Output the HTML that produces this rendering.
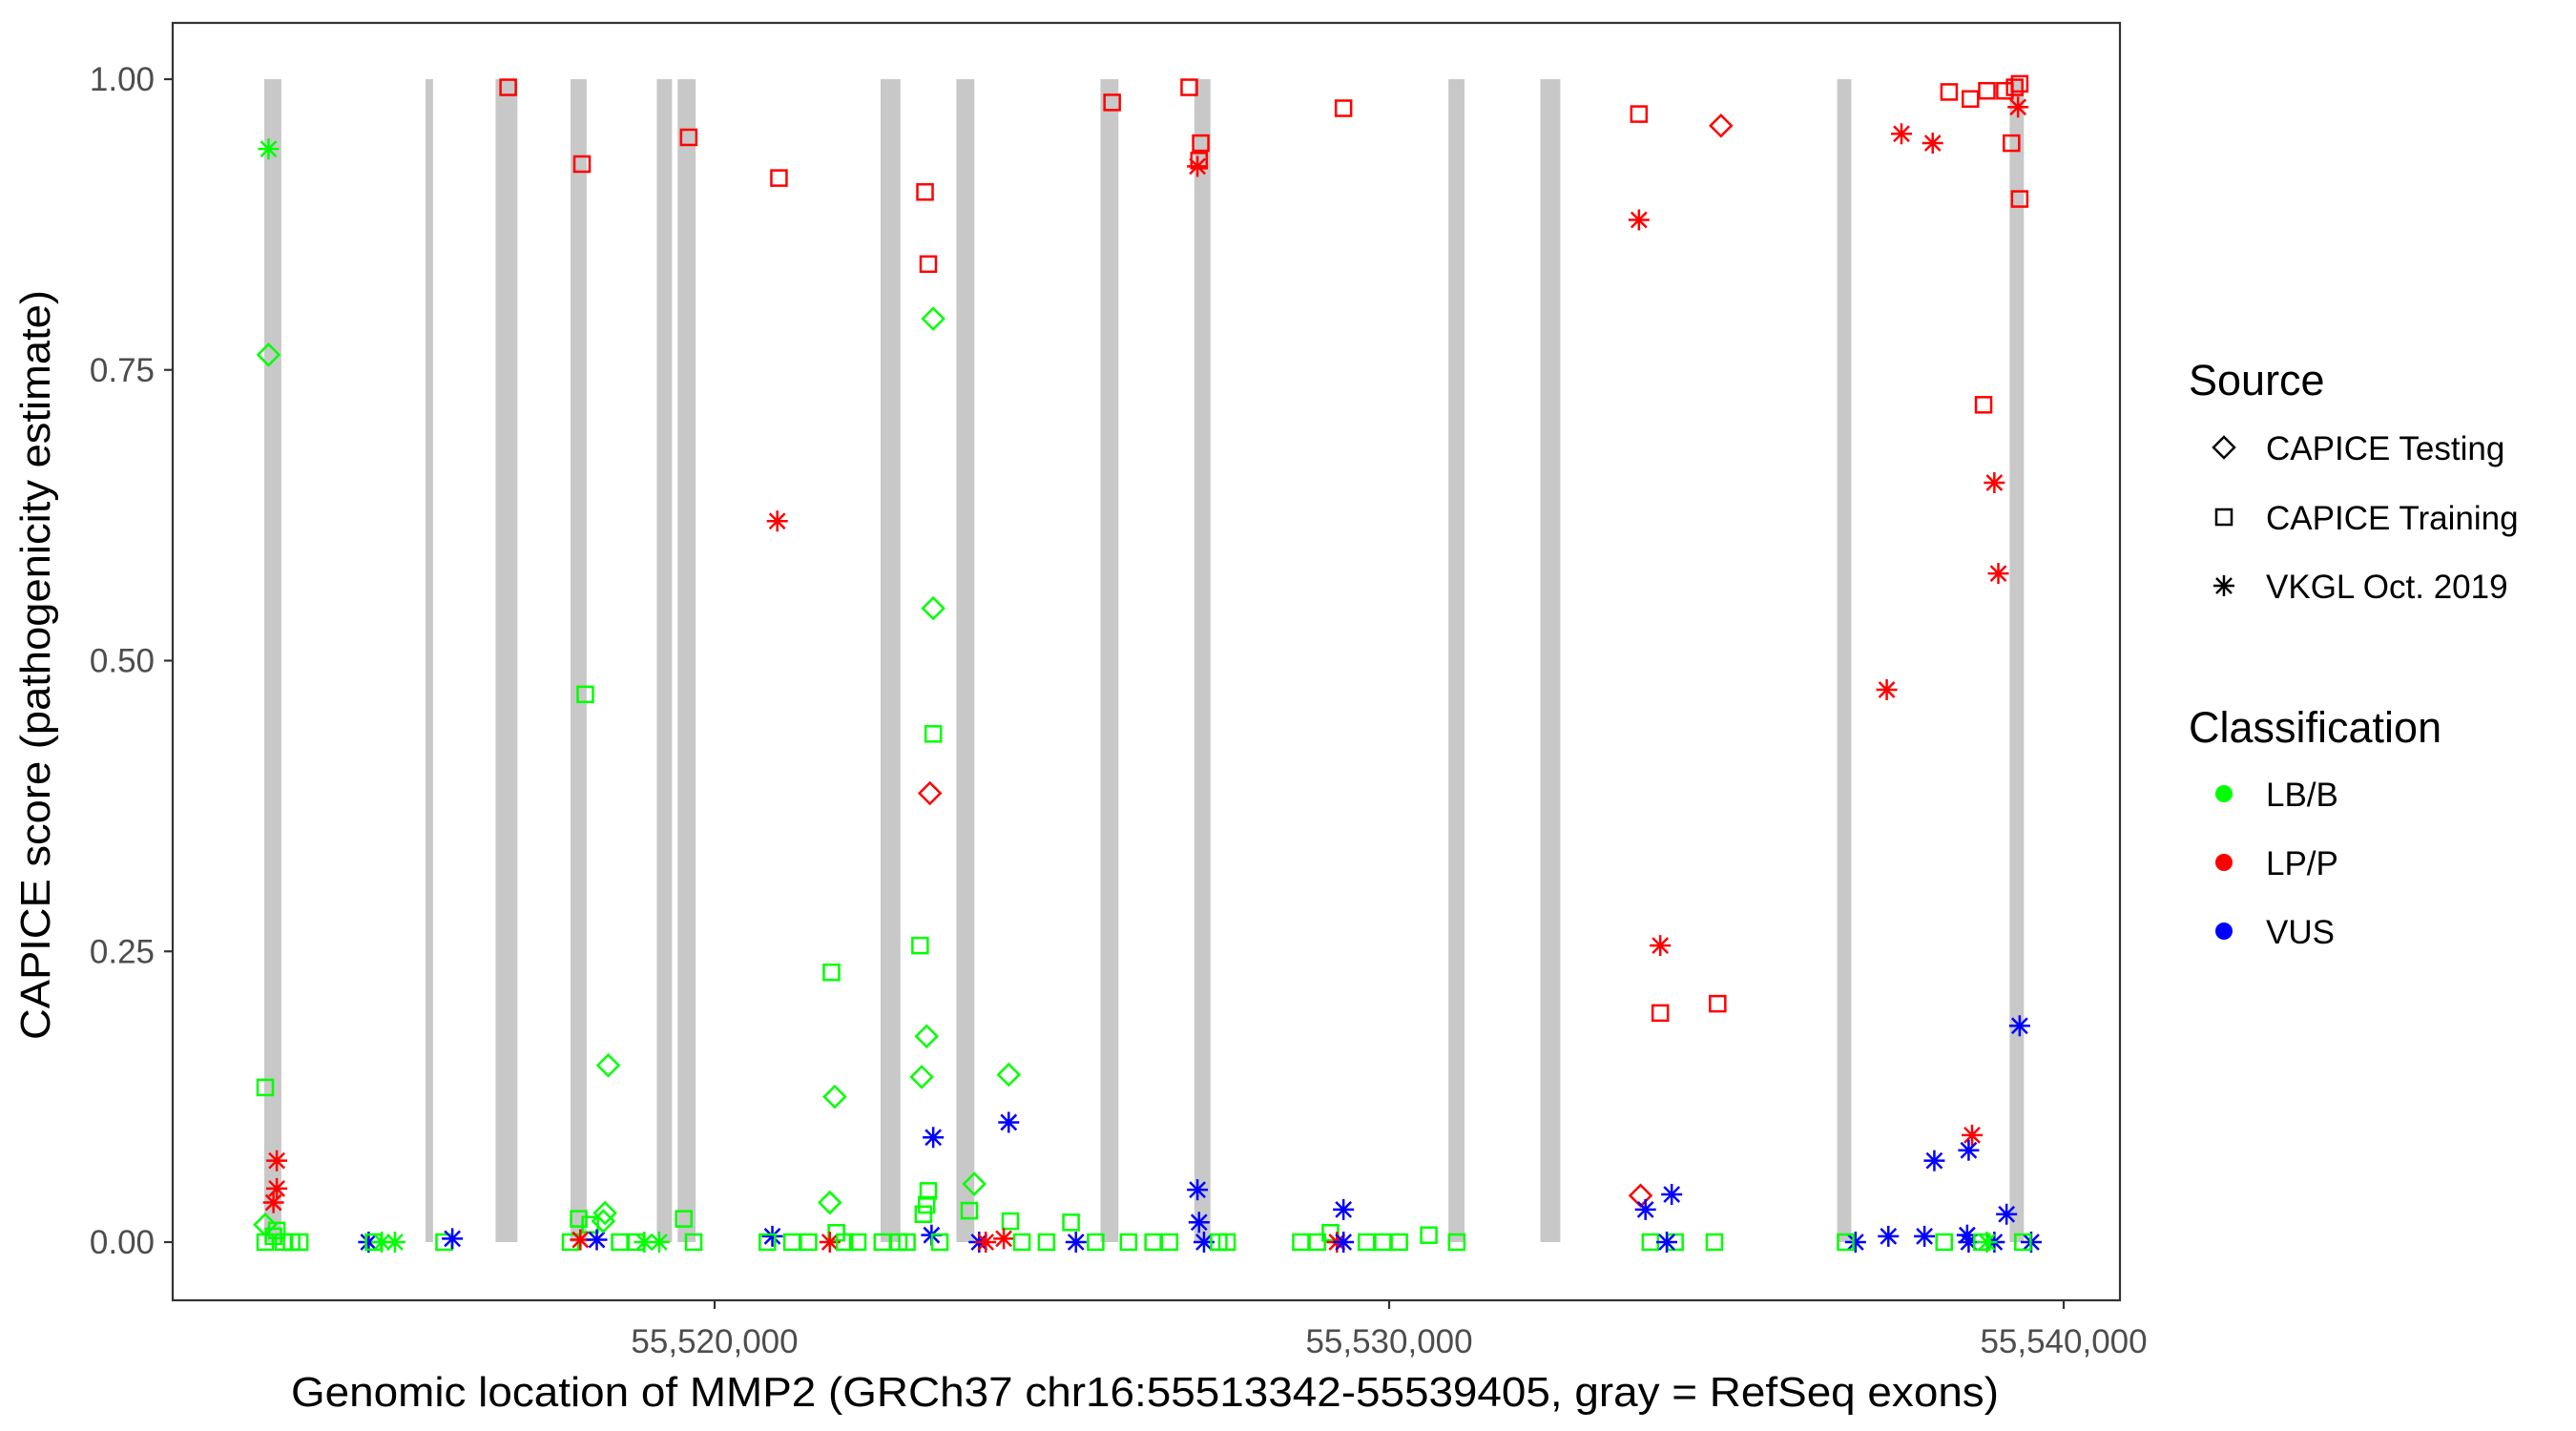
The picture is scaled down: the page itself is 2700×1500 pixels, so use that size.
<!DOCTYPE html>
<html><head><meta charset="utf-8"><style>
html,body{margin:0;padding:0;background:#fff;}
svg{display:block;font-family:"Liberation Sans",sans-serif;}
</style></head><body>
<svg id="chart" width="2700" height="1500" viewBox="0 0 2700 1500">
<rect x="0" y="0" width="2700" height="1500" fill="#fff"/>
<g id="exons"></g>
<g id="points"></g>
<rect x="181" y="24" width="2041" height="1339" fill="none" stroke="#333" stroke-width="2.2"/>
<g id="yaxis"></g>
<g id="xaxis"></g>
<text x="1200" y="1474" font-size="44" text-anchor="middle" fill="#000" textLength="1790" lengthAdjust="spacingAndGlyphs">Genomic location of MMP2 (GRCh37 chr16:55513342-55539405, gray = RefSeq exons)</text>
<text transform="translate(52,697) rotate(-90)" font-size="44" text-anchor="middle" fill="#000" textLength="786" lengthAdjust="spacingAndGlyphs">CAPICE score (pathogenicity estimate)</text>
<g id="legend">
<text x="2294" y="414" font-size="45" fill="#000">Source</text>
<polygon points="2320,469 2331,458 2342,469 2331,480" fill="none" stroke="#000" stroke-width="2.5"/>
<text x="2375" y="482" font-size="35" fill="#000">CAPICE Testing</text>
<rect x="2323" y="534" width="16" height="16" fill="none" stroke="#000" stroke-width="2.5"/>
<text x="2375" y="555" font-size="35" fill="#000">CAPICE Training</text>
<g stroke="#000" stroke-width="2.5"><line x1="2320" y1="614" x2="2342" y2="614"/><line x1="2331" y1="603" x2="2331" y2="625"/><line x1="2323" y1="606" x2="2339" y2="622"/><line x1="2323" y1="622" x2="2339" y2="606"/></g>
<text x="2375" y="627" font-size="35" fill="#000">VKGL Oct. 2019</text>
<text x="2294" y="778" font-size="45" fill="#000">Classification</text>
<circle cx="2331" cy="832" r="9" fill="#00FF00"/>
<text x="2375" y="845" font-size="35" fill="#000">LB/B</text>
<circle cx="2331" cy="904" r="9" fill="#FF0000"/>
<text x="2375" y="917" font-size="35" fill="#000">LP/P</text>
<circle cx="2331" cy="976" r="9" fill="#0000FF"/>
<text x="2375" y="989" font-size="35" fill="#000">VUS</text>
</g>
</svg>
<script>
const exonStarts=[55513324,55515713,55516753,55517864,55519143,55519452,55522460,55523584,55525720,55527112,55530879,55532242,55536641,55539199];
const exonEnds=[55513577,55515826,55517077,55518103,55519368,55519719,55522755,55523851,55525987,55527351,55531118,55532537,55536852,55539410];
const yTicks=[0,0.25,0.5,0.75,1];
const yTickLabels=["0.00","0.25","0.50","0.75","1.00"];
const xTicks=[55520000,55530000,55540000];
const xTickLabels=["55,520,000","55,530,000","55,540,000"];
const positions=[55513387,55513387,55513338,55513509,55513509,55513460,55513338,55513338,55513460,55513606,55513728,55513849,55513509,55514871,55514944,55515066,55515260,55515990,55516112,55516939,55518034,55518083,55518423,55517864,55517985,55518156,55518010,55518253,55518375,55518350,55518594,55518837,55518959,55519178,55519616,55519543,55519689,55520954,55520929,55521732,55521781,55521708,55521805,55520856,55521708,55520783,55521148,55521392,55521927,55522122,55523119,55523168,55523241,55523241,55523241,55523192,55523046,55523143,55523070,55523241,55523168,55523143,55523095,55523216,55522487,55522730,55522851,55523338,55523849,55523776,55524360,55524360,55524384,55524287,55523922,55524019,55524555,55524920,55525284,55525357,55525649,55526136,55526501,55526744,55525893,55527036,55527207,55527158,55527182,55527158,55527182,55527255,55527474,55527596,55529323,55529323,55529129,55529226,55529323,55528691,55528934,55529664,55529907,55530150,55530588,55531002,55533703,55534919,55533703,55534019,55534019,55534870,55533727,55533800,55534189,55533873,55534238,55534822,55534116,55537595,55538058,55538301,55538617,55538861,55539128,55539274,55539347,55539323,55539226,55539347,55538812,55538972,55539031,55537377,55539347,55538642,55538082,55538591,55539153,55536914,55537401,55537936,55538569,55538591,55538972,55539518,55536768,55538228,55538788,55539396,55538861];
const scores=[0.94,0.763,0.133,0.07,0.046,0.034,0.015,0,0.005,0,0,0,0.01,0,0,0,0,0,0.003,0.993,0.927,0.471,0.152,0,0.02,0.015,0.002,0.002,0.025,0.018,0,0,0,0,0.95,0.02,0,0.915,0.62,0.232,0.125,0.034,0.008,0.005,0,0,0,0,0,0,0.903,0.841,0.794,0.545,0.437,0.386,0.255,0.177,0.142,0.09,0.044,0.032,0.024,0.006,0,0,0,0,0.05,0.027,0.144,0.103,0.018,0.003,0,0,0,0,0.017,0,0,0,0,0,0.98,0.993,0.945,0.925,0.93,0.045,0.017,0,0,0,0.975,0.028,0.008,0,0,0,0,0,0,0,0.006,0,0.97,0.96,0.879,0.255,0.197,0.205,0.04,0.028,0.041,0,0,0,0,0.953,0.945,0.989,0.983,0.99,0.99,0.993,0.996,0.976,0.945,0.897,0.72,0.653,0.575,0.475,0.186,0.092,0.07,0.079,0.024,0,0.005,0.005,0.006,0,0,0,0,0,0,0,0];
const classes=("GGGRRRGGGG"+"GGGBGGGGBR"+"RGGGGGRBGG"+"GGGGRGGRRG"+"GGGBRGGGGG"+"RRGGGRGGGB"+"GGGBGGGGGG"+"GBGRBRGGGB"+"GGGGRRRRRB"+"BBGGRBGRBG"+"GGGGGGRRRR"+"RRRBBGGGBR"+"RRRRRRRRRR"+"RRRRBRBBBB"+"BBBBBBGGGG"+"G").split("");
const shapes=("ADSAAADSSS"+"SSSASAASAS"+"SSDSSSAADD"+"SSAASSSSAS"+"DDSAASSSSS"+"SSDDSDSDDA"+"SSSASSSSDS"+"DASAAASSSA"+"SSSSSSSASA"+"AASSSASAAS"+"SSSSSSSDAA"+"SSDAASSSAA"+"ASSSSSSASS"+"SAAAAAAAAA"+"AAAAAASSSS"+"A").split("");
</script>
<script>
const colorMap={G:"#00FF00",R:"#FF0000",B:"#0000FF"};
const NS="http://www.w3.org/2000/svg";
const xMin=55511966,xMax=55540834,px0=181,px1=2222;
function xs(g){return px0+(g-xMin)/(xMax-xMin)*(px1-px0);}
function ys(v){return 1302-v*1219;}
function mk(tag,attrs,parent){const e=document.createElementNS(NS,tag);for(const k in attrs)e.setAttribute(k,attrs[k]);parent.appendChild(e);return e;}
const exG=document.getElementById('exons');
for(let i=0;i<exonStarts.length;i++){
  const r=mk('rect',{x:xs(exonStarts[i]),y:ys(1),width:xs(exonEnds[i])-xs(exonStarts[i]),height:ys(0)-ys(1),fill:'#C8C8C8'},exG);
  
  
}
const yG=document.getElementById('yaxis');
yTicks.forEach((t,i)=>{
  const y=ys(t);
  const l=mk('line',{x1:172,x2:181,y1:y,y2:y,stroke:'#333','stroke-width':2.2},yG);
  
  
  const tx=mk('text',{x:162,y:y+12,'font-size':35,'text-anchor':'end',fill:'#4d4d4d'},yG);
  tx.textContent=yTickLabels[i];
  
  
});
const xG=document.getElementById('xaxis');
xTicks.forEach((t,i)=>{
  const x=xs(t);
  const l=mk('line',{x1:x,x2:x,y1:1363,y2:1372,stroke:'#333','stroke-width':2.2},xG);
  
  
  const tx=mk('text',{x:x,y:1418,'font-size':35,'text-anchor':'middle',fill:'#4d4d4d'},xG);
  tx.textContent=xTickLabels[i];
  
  
});
const pG=document.getElementById('points');
for(let i=0;i<positions.length;i++){
  const cx=xs(positions[i]),cy=ys(scores[i]),c=colorMap[classes[i]]||"#00FF00",s=shapes[i]||'S';
  let el;
  if(s==='S'){
    el=mk('rect',{x:cx-8,y:cy-8,width:16,height:16,fill:'none',stroke:c,'stroke-width':2.5},pG);
  }else if(s==='D'){
    el=mk('polygon',{points:`${cx-11},${cy} ${cx},${cy-11} ${cx+11},${cy} ${cx},${cy+11}`,fill:'none',stroke:c,'stroke-width':2.5},pG);
  }else{
    el=mk('g',{stroke:c,'stroke-width':2.5},pG);
    mk('line',{x1:cx-11,y1:cy,x2:cx+11,y2:cy},el);
    mk('line',{x1:cx,y1:cy-11,x2:cx,y2:cy+11},el);
    mk('line',{x1:cx-8,y1:cy-8,x2:cx+8,y2:cy+8},el);
    mk('line',{x1:cx-8,y1:cy+8,x2:cx+8,y2:cy-8},el);
  }
  
  
}
</script>
</body></html>
